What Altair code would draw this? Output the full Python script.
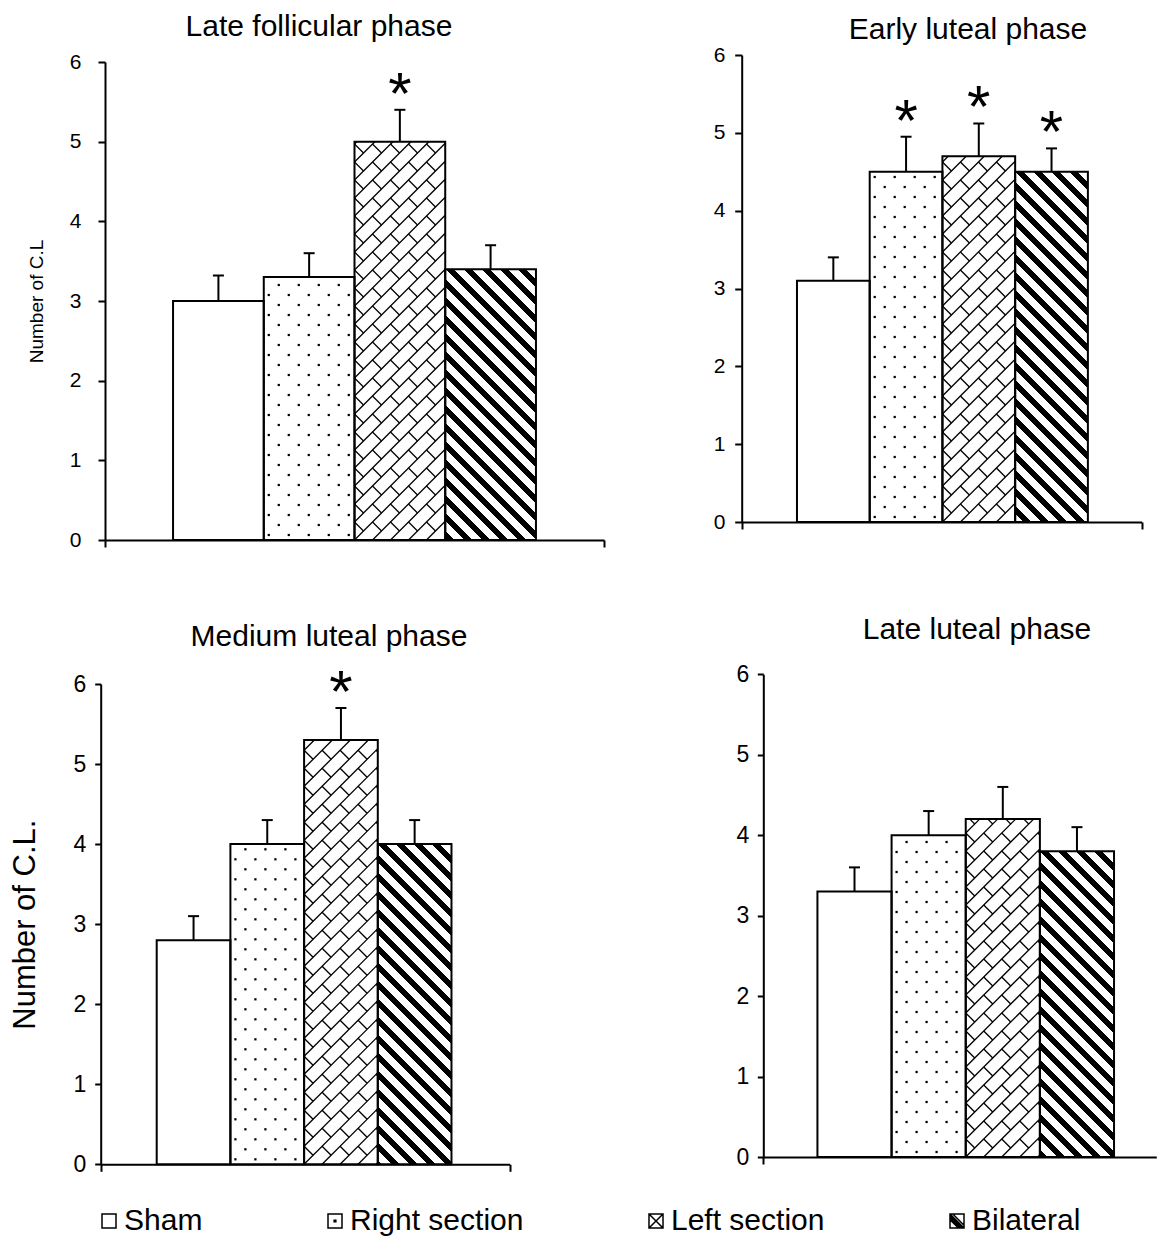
import math
import altair as alt
import pandas as pd

FONT = "Liberation Sans"

# ---------------- data ----------------
groups = ["Sham", "Right section", "Left section", "Bilateral"]

late_follicular_mean = [3.0, 3.3, 5.0, 3.4]
late_follicular_sem = [0.32, 0.3, 0.4, 0.3]
late_follicular_star = ["", "", "*", ""]

early_luteal_mean = [3.1, 4.5, 4.7, 4.5]
early_luteal_sem = [0.3, 0.45, 0.42, 0.3]
early_luteal_star = ["", "*", "*", "*"]

medium_luteal_mean = [2.8, 4.0, 5.3, 4.0]
medium_luteal_sem = [0.3, 0.3, 0.4, 0.3]
medium_luteal_star = ["", "", "*", ""]

late_luteal_mean = [3.3, 4.0, 4.2, 3.8]
late_luteal_sem = [0.3, 0.3, 0.4, 0.3]
late_luteal_star = ["", "", "", ""]

y_ticks = [0, 1, 2, 3, 4, 5, 6]
y_max = 6

# legend icons (custom symbol paths)
icons = [
    "M-1,-1H1V1H-1Z",
    "M-1,-1H1V1H-1Z M-0.12,-0.12H0.12V0.12H-0.12Z",
    "M-1,-1H1V1H-1Z M-1,1L1,-1 M-1,-1L1,1",
    "M-1,-1H1V1H-1Z M-1,-1L1,1 M-1,-0.6L0.6,1 M-1,-0.2L0.2,1 M-0.6,-1L1,0.6 M-1,-0.8L0.8,1 M-1,-0.4L0.4,1",
]

CHART_W, CHART_H = 1149, 1227


# ---------------- pattern helpers (pixel space -> data space) ----------------
def clip_segment(x0, y0, x1, y1, xmin, xmax, ymin, ymax):
    dx, dy = x1 - x0, y1 - y0
    p = [-dx, dx, -dy, dy]
    q = [x0 - xmin, xmax - x0, y0 - ymin, ymax - y0]
    u1, u2 = 0.0, 1.0
    for pi, qi in zip(p, q):
        if pi == 0:
            if qi < 0:
                return None
        else:
            t = qi / pi
            if pi < 0:
                u1 = max(u1, t)
            else:
                u2 = min(u2, t)
    if u2 - u1 < 1e-6:
        return None
    return (x0 + u1 * dx, y0 + u1 * dy, x0 + u2 * dx, y0 + u2 * dy)


def brick_segments(w, h, period):
    segs = []
    L = w + h + 2 * period
    n_min = math.floor(-h / period) - 1
    n_max = math.ceil(w / period) + 1
    for n in range(n_min, n_max + 1):
        c = n * period
        s = clip_segment(c - L, -L, c + L, L, 0, w, 0, h)
        if s:
            segs.append(s)
    B = 2 * period
    for n in range(n_min, n_max + 1):
        c0, c1 = n * period, (n + 1) * period
        off = (n % 2) * B / 2
        m_min = math.floor(-off / B) - 2
        m_max = math.ceil((w + h - off) / B) + 2
        for m in range(m_min, m_max + 1):
            T = m * B + off
            s = clip_segment((T + c0) / 2, (T - c0) / 2, (T + c1) / 2, (T - c1) / 2, 0, w, 0, h)
            if s:
                segs.append(s)
    return segs


def dot_points(w, h, dx=20.0, dy=10.0, x0=5.0, y0=5.0, margin=2.5):
    pts = []
    r = 0
    y = y0
    while y <= h - margin:
        x = x0 + (r % 2) * dx / 2
        while x <= w - margin:
            pts.append((x, y))
            x += dx
        r += 1
        y += dy
    return pts


def stripe_gradient(w, h, period, frac):
    k = (w + h) / (w * w + h * h)
    total = w + h
    stops = [alt.GradientStop(offset=0, color="white")]
    n_min = math.floor(-h / period) - 1
    n_max = math.ceil(w / period) + 1
    for n in range(n_min, n_max + 1):
        a = n * period
        b = a + frac * period
        oa = (a + h) / total
        ob = (b + h) / total
        if ob <= 0 or oa >= 1:
            continue
        oa, ob = round(max(0.0, oa), 5), round(min(1.0, ob), 5)
        stops += [
            alt.GradientStop(offset=oa, color="white"),
            alt.GradientStop(offset=oa, color="black"),
            alt.GradientStop(offset=ob, color="black"),
            alt.GradientStop(offset=ob, color="white"),
        ]
    stops.append(alt.GradientStop(offset=1, color="white"))
    return alt.LinearGradient(
        gradient="linear", x1=0, y1=1, x2=round(k * w, 5), y2=round(1 - k * h, 5), stops=stops
    )


# ---------------- panel builder ----------------
def panel(title_text, means, sems, stars, cfg, with_legend=False):
    lo, hi = cfg["xdom"]
    left, right, top, bottom = cfg["box"]
    W, H = right - left, bottom - top
    kx = W / (hi - lo)
    ky = H / y_max
    n = len(groups)
    bars = pd.DataFrame({
        "group": groups,
        "x0": list(range(n)),
        "x1": [i + 1 for i in range(n)],
        "mid": [i + 0.5 for i in range(n)],
        "mean": means,
        "top": [m + s for m, s in zip(means, sems)],
        "star": stars,
    })
    xs = alt.Scale(domain=[lo, hi], range=[left, right], nice=False, zero=False)
    ys = alt.Scale(domain=[0, y_max], range=[bottom, top], nice=False, zero=False)
    xax = alt.Axis(orient="bottom", offset=bottom - CHART_H, values=cfg["xticks"], labels=False,
                   title=None, tickSize=7, grid=False)
    yargs = dict(orient="left", offset=-left, values=y_ticks, tickSize=cfg["tick"],
                 labelPadding=cfg["lp"], labelFontSize=cfg["lfs"], grid=False)
    if cfg.get("ytitle"):
        yargs.update(title=cfg["ytitle"], titleFontSize=cfg["ytfs"], titlePadding=cfg["ytpad"])
    else:
        yargs["title"] = None
    yax = alt.Axis(**yargs)

    def X(f):
        return alt.X(f, type="quantitative", scale=xs, axis=xax)

    def Y(f):
        return alt.Y(f, type="quantitative", scale=ys, axis=yax)

    w = kx
    i_r = groups.index("Right section")
    i_l = groups.index("Left section")
    i_b = groups.index("Bilateral")

    dots = [{"x": i_r + px / kx, "y": py / ky} for px, py in dot_points(w, means[i_r] * ky)]
    bricks = [{"x": i_l + a / kx, "y": b / ky, "x2": i_l + c / kx, "y2": d / ky}
              for a, b, c, d in brick_segments(w, means[i_l] * ky, 18.0)]
    grad = stripe_gradient(w, means[i_b] * ky, 18.0, 0.45)

    base = alt.Chart(bars)
    fill = base.mark_bar(fill="white").encode(x=X("x0"), x2="x1:Q", y=Y("mean"), y2=alt.datum(0))
    stripe = base.transform_filter(alt.datum.group == "Bilateral").mark_bar(fill=grad).encode(
        x=X("x0"), x2="x1:Q", y=Y("mean"), y2=alt.datum(0))
    dotl = alt.Chart(pd.DataFrame(dots)).mark_square(size=5, color="black", opacity=1).encode(
        x=X("x"), y=Y("y"))
    brick = alt.Chart(pd.DataFrame(bricks)).mark_rule(color="black", strokeWidth=1.3).encode(
        x=X("x"), y=Y("y"), x2="x2:Q", y2="y2:Q")
    outline = base.mark_bar(fillOpacity=0, stroke="black", strokeWidth=2).encode(
        x=X("x0"), x2="x1:Q", y=Y("mean"), y2=alt.datum(0))
    err = base.mark_rule(color="black", strokeWidth=2).encode(x=X("mid"), y=Y("mean"), y2="top:Q")
    cap = base.mark_point(shape="M-1,0L1,0", size=121, filled=False, color="black",
                          strokeWidth=2, opacity=1).encode(x=X("mid"), y=Y("top"))
    star = base.mark_text(font=FONT, fontSize=60, color="black", baseline="alphabetic", dy=4).encode(
        x=X("mid"), y=Y("top"), text="star:N")
    title = alt.Chart(pd.DataFrame({"t": [title_text]})).mark_text(
        font=FONT, fontSize=30, color="black", baseline="alphabetic", align="center").encode(
        text="t:N", x=alt.value(cfg["tx"]), y=alt.value(cfg["ty"]))

    layers = [fill, stripe, dotl, brick, outline, err, cap, star, title]
    if with_legend:
        leg_df = pd.DataFrame({"group": groups, "lx": [0.0] * n, "ly": [40.0] * n})
        legend = alt.Legend(
            title=None, orient="none", legendX=86, legendY=1198, direction="horizontal",
            columns=4, columnPadding=117, symbolSize=196, symbolStrokeWidth=1.5,
            symbolStrokeColor="black", labelFontSize=30, labelFont=FONT, labelColor="black",
            labelOffset=0, labelLimit=0, padding=0,
        )
        leg = alt.Chart(leg_df).mark_point(filled=False, clip=True, color="black",
                                           strokeWidth=1.5, size=196, opacity=1).encode(
            x=X("lx"), y=Y("ly"),
            shape=alt.Shape("group:N", scale=alt.Scale(domain=groups, range=icons), legend=legend))
        layers.append(leg)
    return alt.layer(*layers)


# panel boxes in chart pixels: (left, right, top, bottom)
cfg1 = dict(box=(97, 596, 54, 532), xdom=(-0.75, 4.75), xticks=[-0.75, 4.75], tick=7, lp=17,
            lfs=21, ytitle="Number of C.L", ytfs=19, ytpad=23, tx=311, ty=27.5)
cfg2 = dict(box=(733.7, 1133.7, 47, 514), xdom=(-0.76, 4.74), xticks=[-0.76, 4.74], tick=7,
            lp=9.7, lfs=21, tx=960, ty=30.5)
cfg3 = dict(box=(92.7, 501.7, 676, 1156.3), xdom=(-0.76, 4.79), xticks=[-0.76, 4.79], tick=6,
            lp=9, lfs=23, ytitle="Number of C.L.", ytfs=31, ytpad=31.7, tx=321, ty=637.5)
cfg4 = dict(box=(755.3, 1148.3, 666.3, 1149), xdom=(-0.73, 4.57), xticks=[-0.73], tick=6,
            lp=8.5, lfs=23, tx=969, ty=630.5)

p1 = panel("Late follicular phase", late_follicular_mean, late_follicular_sem, late_follicular_star, cfg1)
p2 = panel("Early luteal phase", early_luteal_mean, early_luteal_sem, early_luteal_star, cfg2)
p3 = panel("Medium luteal phase", medium_luteal_mean, medium_luteal_sem, medium_luteal_star, cfg3,
           with_legend=True)
p4 = panel("Late luteal phase", late_luteal_mean, late_luteal_sem, late_luteal_star, cfg4)

chart = (
    alt.layer(p1, p2, p3, p4)
    .resolve_scale(x="independent", y="independent")
    .resolve_axis(x="independent", y="independent")
    .properties(width=CHART_W, height=CHART_H,
                padding={"left": 0, "top": 0, "right": 0, "bottom": 0})
    .configure_view(stroke=None)
    .configure_axis(grid=False, domainColor="black", tickColor="black", labelColor="black",
                    titleColor="black", labelFont=FONT, titleFont=FONT, domainWidth=2,
                    tickWidth=2, titleFontWeight="normal")
)

chart.save("out.html", embed_options={"renderer": "svg", "actions": False})
